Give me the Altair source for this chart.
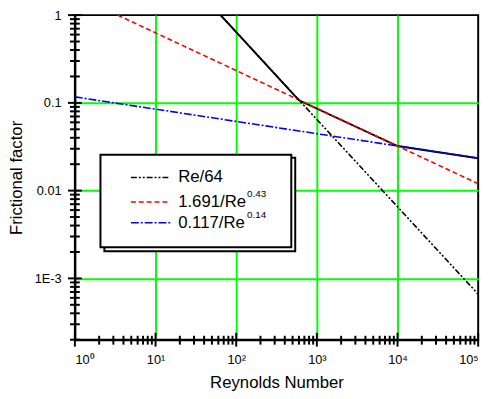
import altair as alt
import pandas as pd

# ---- data ----
re_laminar = [64, 100000]
f_laminar = [1.0, 0.00066]

re_red = [3.39, 100000]
f_red = [1.0, 0.0120]

re_blue = [1, 100000]
f_blue = [0.117, 0.0234]

re_env = [64, 600, 10000, 100000]
f_env = [1.0, 0.107, 0.0322, 0.0234]

legend_labels = ["Re/64", "1.691/Re", "0.117/Re"]
legend_exps = ["", "0.43", "0.14"]

x_major = [1, 10, 100, 1000, 10000, 100000]
x_minor = [m * 10 ** e for e in range(5) for m in range(2, 10)]
y_major = [0.001, 0.01, 0.1, 1]
y_minor = [round(m * 10.0 ** e, 6) for e in (-4, -3, -2, -1) for m in range(2, 10)]
y_minor = [v for v in y_minor if v >= 0.0002]

FONT = "Liberation Sans"
GREEN = "#00ff00"

xscale = alt.Scale(type="log", domain=[1, 100000], nice=False)
yscale = alt.Scale(type="log", domain=[0.0002, 1], nice=False)

xaxis = alt.Axis(
    values=x_major,
    labelExpr="'10' + ['\u2070','\u00b9','\u00b2','\u00b3','\u2074','\u2075'][round(log(datum.value)/LN10)]",
    ticks=False,
    domainColor="black", domainWidth=2,
    grid=True, gridColor=GREEN, gridWidth=2,
    gridOpacity={"condition": {"test": "datum.value > 1.5 && datum.value < 50000", "value": 1}, "value": 0},
    labelFont=FONT, labelFontSize=13, labelColor="black", labelPadding=14,
    title="Reynolds Number", titleFont=FONT, titleFontSize=17, titleFontWeight="normal",
    titleColor="black", titleY=44, titleBaseline="middle",
)
yaxis = alt.Axis(
    values=y_major,
    labelExpr="datum.value >= 0.5 ? '1' : datum.value >= 0.05 ? '0.1' : datum.value >= 0.005 ? '0.01' : '1E-3'",
    ticks=False,
    domainColor="black", domainWidth=2,
    grid=True, gridColor=GREEN, gridWidth=2,
    gridOpacity={"condition": {"test": "datum.value < 0.5", "value": 1}, "value": 0},
    labelFont=FONT, labelFontSize=13, labelColor="black", labelPadding=14,
    title="Frictional factor", titleFont=FONT, titleFontSize=17, titleFontWeight="normal",
    titleColor="black", titleX=-59, titleY=165, titleBaseline="middle",
)

X = lambda f: alt.X(f, type="quantitative", scale=xscale, axis=xaxis)
Y = lambda f: alt.Y(f, type="quantitative", scale=yscale, axis=yaxis)


def line(xs, ys, color, width, dash=None):
    df = pd.DataFrame({"re": xs, "f": ys})
    kw = dict(color=color, strokeWidth=width, clip=True)
    if dash:
        kw["strokeDash"] = dash
    return alt.Chart(df).mark_line(**kw).encode(x=X("re"), y=Y("f"))


one = pd.DataFrame({"a": [0]})

# ticks crossing the axes
xt_major = alt.Chart(pd.DataFrame({"t": x_major})).mark_rule(color="black", strokeWidth=2).encode(
    x=X("t"), y=alt.value(323), y2=alt.value(337))
xt_minor = alt.Chart(pd.DataFrame({"t": x_minor})).mark_rule(color="black", strokeWidth=2).encode(
    x=X("t"), y=alt.value(326), y2=alt.value(335))
yt_major = alt.Chart(pd.DataFrame({"t": y_major})).mark_rule(color="black", strokeWidth=2).encode(
    y=Y("t"), x=alt.value(-7), x2=alt.value(7))
yt_minor = alt.Chart(pd.DataFrame({"t": y_minor})).mark_rule(color="black", strokeWidth=2).encode(
    y=Y("t"), x=alt.value(-5), x2=alt.value(5))

l_blue = line(re_blue, f_blue, "#0000ff", 1.6, [8, 2, 2, 2])
l_red = line(re_red, f_red, "#ff0000", 1.6, [5, 3])
l_lam = line(re_laminar, f_laminar, "black", 1.6, [6, 2, 2, 2, 2, 2])
l_env = line(re_env, f_env, "black", 2)

# legend box (with offset outline shadow)
shadow = alt.Chart(one).mark_rect(fill="white", stroke="black", strokeWidth=2).encode(
    x=alt.value(30), x2=alt.value(224), y=alt.value(145), y2=alt.value(240))
box = alt.Chart(one).mark_rect(fill="white", stroke="black", strokeWidth=2).encode(
    x=alt.value(26), x2=alt.value(220), y=alt.value(142), y2=alt.value(236))

rows_y = [165, 190, 211]
styles = [("black", [6, 2, 2, 2, 2, 2]), ("#ff0000", [5, 3]), ("#0000ff", [8, 2, 2, 2])]
legend_layers = [shadow, box]
for i, (lab, ex) in enumerate(zip(legend_labels, legend_exps)):
    c, d = styles[i]
    legend_layers.append(
        alt.Chart(one).mark_rule(color=c, strokeWidth=1.6, strokeDash=d).encode(
            x=alt.value(57), x2=alt.value(97), y=alt.value(rows_y[i])))
    legend_layers.append(
        alt.Chart(one).mark_text(align="left", baseline="middle", font=FONT, fontSize=17, color="black").encode(
            x=alt.value(105), y=alt.value(rows_y[i]), text=alt.value(lab)))
    if ex:
        legend_layers.append(
            alt.Chart(one).mark_text(align="left", baseline="middle", font=FONT, fontSize=10, color="black").encode(
                x=alt.value(175), y=alt.value(rows_y[i] - 8), text=alt.value(ex)))

chart = alt.layer(
    l_env, l_blue, l_red, l_lam,
    xt_major, xt_minor, yt_major, yt_minor,
    *legend_layers,
).properties(
    width=410, height=330,
    autosize=alt.AutoSizeParams(type="none"),
    padding={"left": 68, "top": 4, "right": 11, "bottom": 55},
).configure_view(stroke="black", strokeWidth=2)

chart.save("out.html", embed_options={"renderer": "svg", "actions": False})
